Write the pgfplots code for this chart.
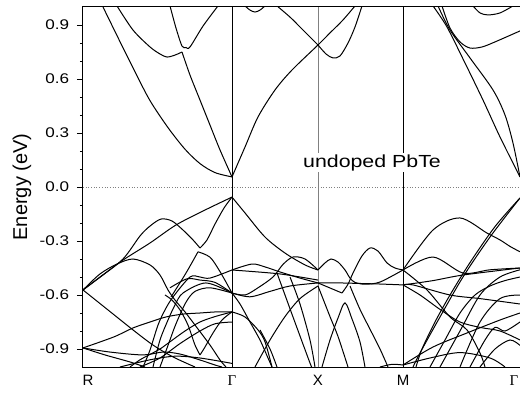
\documentclass[border=0pt]{standalone}
\usepackage{pgfplots}
\pgfplotsset{compat=1.18}
\usepackage{fontspec}
\setmainfont{Liberation Sans}
\newfontfamily\serifgr{Liberation Serif}
\begin{document}
\begin{tikzpicture}[x=1pt,y=1pt]
\begin{axis}[
  width=440pt, height=360pt, scale only axis,
  xmin=83, xmax=523, ymin=-1, ymax=1,
  axis line style={line width=1pt},
  ytick={-0.9,-0.6,-0.3,0,0.3,0.6,0.9},
  yticklabels={-0.9,-0.6,-0.3,0.0,0.3,0.6,0.9},
  minor y tick num=2,
  tick align=outside, ytick pos=left,
  major tick length=6pt, minor tick length=3pt,
  tick style={line width=0.8pt, black},
  xtick={88,232,318,403,514},
  xticklabels={R,{\serifgr Γ},X,M,{\serifgr Γ}},
  x tick style={draw=none},
  xtick pos=bottom,
  yticklabel style={font=\fontsize{14}{16}\selectfont, xscale=1.22, xshift=-3pt},
  xticklabel style={font=\fontsize{15}{17}\selectfont, yshift=1pt},
  ylabel={Energy (eV)},
  ylabel style={at={(rel axis cs:-0.1386,0.5)}, anchor=center, font=\fontsize{20}{22}\selectfont},
  clip=true,
  band/.style={black, line width=1pt, smooth, tension=0.5},
]
\coordinate (O) at (rel axis cs:0,0);
% reference lines
\draw[black, line width=0.9pt] (axis cs:232,-1) -- (axis cs:232,1);
\draw[gray, line width=0.6pt] (axis cs:318,-1) -- (axis cs:318,1);
\draw[black, line width=0.8pt] (axis cs:403,-1) -- (axis cs:403,1);
\draw[gray, dotted, line width=0.7pt] (axis cs:83,0) -- (axis cs:523,0);

% ---------------- conduction bands ----------------
\addplot[band] coordinates {(103,1.0)(118,0.83)(135,0.64)(150,0.48)(168,0.33)(185,0.21)(200,0.13)(215,0.08)(232,0.056)};
\addplot[band] coordinates {(117,1.006)(133,0.872)(150,0.778)(160,0.739)(167,0.722)(175,0.733)(182,0.75)};
\addplot[band] coordinates {(182,0.75)(190,0.622)(200,0.483)(210,0.344)(220,0.206)(232,0.056)};
\addplot[band] coordinates {(170,1.006)(176,0.883)(182,0.783)(186,0.775)(190,0.778)(203,0.894)(218,1.006)};
\addplot[band] coordinates {(232,0.056)(245,0.222)(258,0.389)(275,0.539)(292,0.65)(318,0.789)(330,0.856)(343,0.928)(355,1.006)};
\addplot[band] coordinates {(277,1.006)(290,0.944)(300,0.889)(318,0.789)};
\addplot[band] coordinates {(245,1.006)(250,0.983)(255,0.972)(260,0.983)(265,1.006)};
\addplot[band] coordinates {(318,0.789)(326,0.739)(333,0.717)(340,0.728)(348,0.8)(355,0.889)(362,1.006)};
\addplot[band] coordinates {(433,1.006)(447,0.889)(465,0.689)(483,0.483)(500,0.278)(520,0.056)};
\addplot[band] coordinates {(438,1.006)(450,0.872)(470,0.717)(493,0.539)(505,0.4)(513,0.244)(520,0.056)};
\addplot[band] coordinates {(442,1.006)(450,0.883)(460,0.806)(470,0.772)(482,0.778)(495,0.806)(520,0.867)};
\addplot[band] coordinates {(473,1.006)(480,0.967)(488,0.956)(500,0.967)(513,1.006)};

% ---------------- valence bands: R - Gamma ----------------
\addplot[band] coordinates {(83,-0.572)(103,-0.489)(123,-0.406)(150,-0.311)(176,-0.211)(205,-0.128)(232,-0.056)};
\addplot[band] coordinates {(83,-0.572)(100,-0.5)(123,-0.4)(140,-0.272)(150,-0.217)(161,-0.178)(172,-0.189)(183,-0.239)(193,-0.294)(200,-0.339)};
\addplot[band] coordinates {(200,-0.339)(207,-0.294)(215,-0.206)(224,-0.117)(232,-0.056)};
\addplot[band] coordinates {(83,-0.572)(100,-0.483)(117,-0.428)(133,-0.4)(150,-0.433)(160,-0.489)(168,-0.572)(175,-0.628)(185,-0.694)(195,-0.767)(210,-0.878)(220,-0.961)(226,-1.0)};
\addplot[band] coordinates {(83,-0.572)(108,-0.683)(133,-0.794)(153,-0.878)(173,-0.944)(195,-1.0)};
\addplot[band] coordinates {(83,-0.894)(100,-0.861)(116,-0.828)(133,-0.783)(150,-0.75)(166,-0.722)(183,-0.706)(200,-0.700)(216,-0.694)(232,-0.694)};
\addplot[band] coordinates {(83,-0.894)(110,-0.917)(143,-0.933)(163,-0.917)(180,-0.928)(200,-0.961)(215,-0.989)(222,-1.0)};
\addplot[band] coordinates {(83,-0.894)(105,-0.933)(130,-0.972)(145,-1.0)};
\addplot[band] coordinates {(143,-1.0)(150,-0.906)(158,-0.767)(165,-0.683)(173,-0.611)(190,-0.5)(200,-0.5)(210,-0.506)(232,-0.461)};
\addplot[band] coordinates {(153,-1.0)(160,-0.85)(168,-0.739)(175,-0.656)(183,-0.589)(206,-0.533)(232,-0.589)};
\addplot[band] coordinates {(160,-1.0)(168,-0.88)(176,-0.76)(186,-0.64)(195,-0.58)(210,-0.56)(232,-0.589)};
\addplot[band] coordinates {(232,-0.694)(222,-0.739)(213,-0.811)(205,-0.889)(200,-0.933)};
\addplot[band] coordinates {(200,-0.933)(195,-0.878)(188,-0.767)(180,-0.683)(172,-0.628)(165,-0.6)};
\addplot[band] coordinates {(170,-0.56)(187,-0.51)(200,-0.517)(215,-0.53)(232,-0.589)};
\addplot[band] coordinates {(198,-0.36)(210,-0.39)(220,-0.47)(232,-0.589)};
\addplot[band] coordinates {(171,-0.611)(186,-0.478)(198,-0.36)};
\addplot[band] coordinates {(232,-0.694)(215,-0.72)(200,-0.75)(185,-0.80)(170,-0.86)(160,-0.9)(150,-0.93)(140,-0.96)(130,-1.0)};
\addplot[band] coordinates {(120,-1.0)(150,-0.96)(175,-0.94)(200,-0.95)(232,-0.98)};
\addplot[band] coordinates {(140,-1.0)(160,-0.95)(180,-0.87)(200,-0.80)(215,-0.76)(232,-0.75)};

% ---------------- valence bands: Gamma - X ----------------
\addplot[band] coordinates {(232,-0.056)(245,-0.144)(265,-0.278)(285,-0.367)(305,-0.433)(318,-0.461)};
\addplot[band] coordinates {(232,-0.461)(252,-0.428)(265,-0.444)(280,-0.472)(300,-0.506)(318,-0.533)};
\addplot[band] coordinates {(232,-0.461)(258,-0.472)(280,-0.483)(300,-0.5)(318,-0.517)};
\addplot[band] coordinates {(232,-0.589)(245,-0.6)(258,-0.56)(273,-0.5)(283,-0.43)(293,-0.389)(305,-0.4)(318,-0.461)};
\addplot[band] coordinates {(232,-0.589)(250,-0.61)(270,-0.58)(290,-0.55)(318,-0.533)};
\addplot[band] coordinates {(232,-0.694)(245,-0.722)(258,-0.794)(265,-0.86)(272,-1.0)};
\addplot[band] coordinates {(232,-0.589)(240,-0.65)(250,-0.75)(260,-0.85)(268,-0.95)(272,-1.0)};
\addplot[band] coordinates {(255,-1.0)(270,-0.85)(285,-0.72)(300,-0.62)(318,-0.55)};
\addplot[band] coordinates {(277,-0.478)(285,-0.6)(293,-0.722)(310,-0.978)(312,-1.0)};
\addplot[band] coordinates {(260,-0.794)(270,-0.9)(277,-1.0)};
\addplot[band] coordinates {(290,-0.5)(300,-0.65)(310,-0.85)(315,-1.0)};

% ---------------- valence bands: X - M ----------------
\addplot[band] coordinates {(318,-0.461)(325,-0.422)(331,-0.400)(338,-0.417)(345,-0.461)(350,-0.506)(355,-0.530)(365,-0.540)(380,-0.528)(403,-0.461)};
\addplot[band] coordinates {(318,-0.533)(330,-0.561)(342,-0.589)};
\addplot[band] coordinates {(342,-0.589)(348,-0.54)(353,-0.478)(362,-0.383)(370,-0.339)(378,-0.356)(387,-0.422)(395,-0.45)(403,-0.461)};
\addplot[band] coordinates {(318,-0.533)(340,-0.533)(360,-0.536)(380,-0.539)(403,-0.544)};
\addplot[band] coordinates {(322,-1.0)(330,-0.85)(338,-0.728)(345,-0.644)(352,-0.733)(360,-0.861)(365,-1.0)};
\addplot[band] coordinates {(318,-0.55)(330,-0.72)(338,-0.83)(348,-1.0)};
\addplot[band] coordinates {(350,-0.55)(360,-0.68)(370,-0.79)(380,-0.9)(388,-1.0)};
\addplot[band] coordinates {(380,-1.0)(392,-0.985)(403,-0.989)};

% ---------------- valence bands: M - Gamma ----------------
\addplot[band] coordinates {(403,-0.461)(433,-0.239)(460,-0.172)(487,-0.256)(500,-0.294)(510,-0.33)(520,-0.36)};
\addplot[band] coordinates {(520,-0.061)(490,-0.278)(463,-0.5)(440,-0.722)(420,-0.922)(413,-1.0)};
\addplot[band] coordinates {(520,-0.061)(495,-0.22)(470,-0.42)(450,-0.6)(435,-0.75)(422,-0.9)(416,-1.0)};
\addplot[band] coordinates {(403,-0.461)(433,-0.389)(463,-0.478)(490,-0.46)(520,-0.45)};
\addplot[band] coordinates {(403,-0.544)(433,-0.52)(463,-0.489)(520,-0.45)};
\addplot[band] coordinates {(403,-0.544)(413,-0.544)(450,-0.6)(480,-0.62)(520,-0.65)};
\addplot[band] coordinates {(403,-0.461)(427,-0.572)(450,-0.722)(467,-0.794)(480,-0.922)(485,-1.0)};
\addplot[band] coordinates {(403,-0.989)(433,-0.889)(467,-0.811)(500,-0.739)(520,-0.7)};
\addplot[band] coordinates {(403,-0.989)(430,-0.95)(460,-0.92)(490,-0.95)(505,-1.0)};
\addplot[band] coordinates {(440,-1.0)(460,-0.8)(480,-0.6)(500,-0.5)(520,-0.46)};
\addplot[band] coordinates {(460,-1.0)(480,-0.75)(500,-0.62)(520,-0.6)};
\addplot[band] coordinates {(403,-0.544)(420,-0.6)(440,-0.68)(460,-0.75)(480,-0.78)(500,-0.8)(520,-0.85)};
\addplot[band] coordinates {(430,-1.0)(445,-0.85)(460,-0.7)(475,-0.6)(490,-0.55)(505,-0.52)(520,-0.5)};
\addplot[band] coordinates {(470,-1.0)(485,-0.85)(495,-0.78)(505,-0.8)(520,-0.75)};
\addplot[band] coordinates {(480,-1.0)(495,-0.9)(510,-0.85)(520,-0.88)};

\node[fill=white, inner sep=1pt, anchor=base, font=\fontsize{17.5}{20}\selectfont, xscale=1.22] at (axis cs:372,0.111) {undoped PbTe};
\end{axis}
\pgfresetboundingbox
\useasboundingbox ([shift={(-83pt,-27pt)}]O) rectangle ([shift={(437pt,367pt)}]O);
\end{tikzpicture}
\end{document}
